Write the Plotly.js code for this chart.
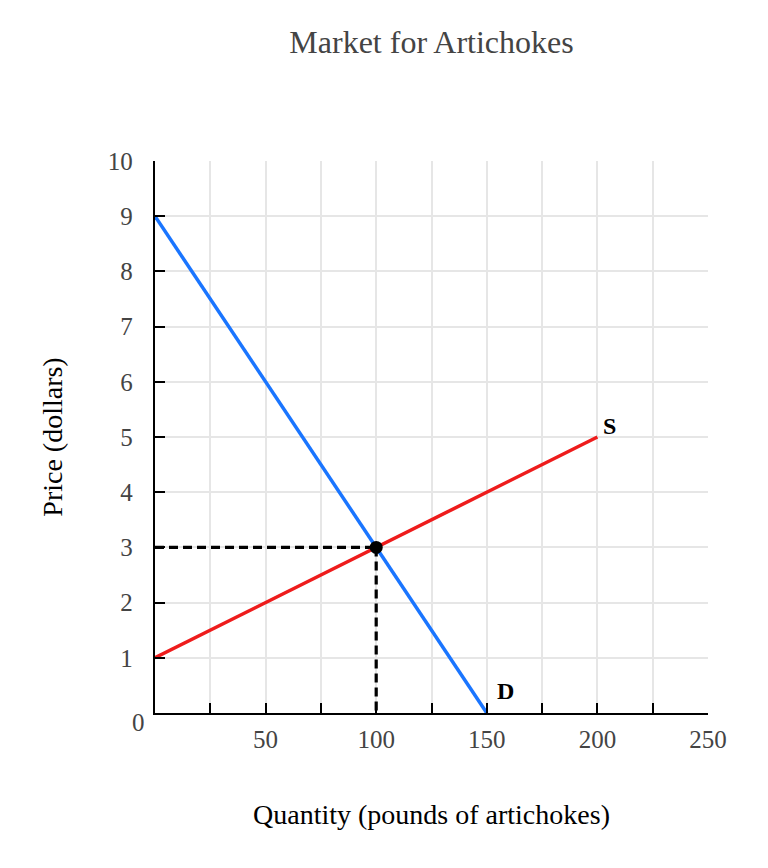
<!DOCTYPE html>
<html>
<head>
<meta charset="utf-8">
<script src="https://cdn.plot.ly/plotly-3.0.1.min.js"></script>
<style>html,body{margin:0;padding:0;background:#fff;}#chart{width:768px;height:868px;}</style>
</head>
<body>
<div id="chart"></div>
<script>
const demandQ = [0, 150];
const demandP = [9, 0];
const supplyQ = [0, 200];
const supplyP = [1, 5];
const eqQ = [100];
const eqP = [3];
const xTickVals = [25, 50, 75, 100, 125, 150, 175, 200, 225, 250];
const xTickText = ['', '50', '', '100', '', '150', '', '200', '', '250'];
const yTickVals = [1, 2, 3, 4, 5, 6, 7, 8, 9, 10];
const yTickText = ['1', '2', '3', '4', '5', '6', '7', '8', '9', '10'];

const font = 'Liberation Serif, Times New Roman, serif';
const traces = [
  {x: [0, eqQ[0]], y: [eqP[0], eqP[0]], mode: 'lines', line: {color: '#000', width: 3.2, dash: '9px,5px'}, hoverinfo: 'skip', showlegend: false},
  {x: [eqQ[0], eqQ[0]], y: [eqP[0], 0], mode: 'lines', line: {color: '#000', width: 3.2, dash: '9px,5px'}, hoverinfo: 'skip', showlegend: false},
  {x: demandQ, y: demandP, mode: 'lines', line: {color: '#1a75ff', width: 3.5}, name: 'D', showlegend: false},
  {x: supplyQ, y: supplyP, mode: 'lines', line: {color: '#ee1c1c', width: 3.5}, name: 'S', showlegend: false},
  {x: eqQ, y: eqP, mode: 'markers', marker: {color: '#000', size: 13}, showlegend: false, cliponaxis: false}
];
const layout = {
  width: 768, height: 868,
  margin: {l: 155, r: 60, t: 161, b: 155},
  paper_bgcolor: '#fff', plot_bgcolor: '#fff',
  font: {family: font, color: '#444', size: 25},
  title: {text: 'Market for Artichokes', font: {family: font, size: 32, color: '#444'}, x: 0.5, xref: 'paper', y: 0.952, yanchor: 'middle'},
  xaxis: {
    range: [0, 250], tickmode: 'array', tickvals: xTickVals, ticktext: xTickText,
    ticks: 'inside', ticklen: 10, tickwidth: 2, tickcolor: '#000',
    showline: true, linecolor: '#000', linewidth: 2.2, zeroline: false,
    showgrid: true, gridcolor: '#e6e6e6', gridwidth: 2,
    tickfont: {family: font, size: 25, color: '#444'}, ticklabelstandoff: 3,
    title: {text: 'Quantity (pounds of artichokes)', font: {family: font, size: 28, color: '#000'}, standoff: 52}
  },
  yaxis: {
    range: [0, 10], tickmode: 'array', tickvals: yTickVals, ticktext: yTickText,
    ticks: 'inside', ticklen: 10, tickwidth: 2, tickcolor: '#000',
    showline: true, linecolor: '#000', linewidth: 2.2, zeroline: false,
    showgrid: true, gridcolor: '#e6e6e6', gridwidth: 2,
    tickfont: {family: font, size: 25, color: '#444'}, ticklabelstandoff: 15,
    title: {text: 'Price (dollars)', font: {family: font, size: 28, color: '#000'}, standoff: 37}
  },
  annotations: [
    {x: supplyQ[1], y: supplyP[1], text: '<b>S</b>', showarrow: false, xshift: 12, yshift: 11, font: {family: font, size: 24, color: '#000'}},
    {x: demandQ[1], y: demandP[1], text: '<b>D</b>', showarrow: false, xshift: 19, yshift: 22, font: {family: font, size: 24, color: '#000'}},
    {x: 0, y: 0, text: '0', showarrow: false, xshift: -17, yshift: -9, font: {family: font, size: 25, color: '#444'}}
  ]
};
Plotly.newPlot('chart', traces, layout, {displayModeBar: false, staticPlot: true});
</script>
</body>
</html>
